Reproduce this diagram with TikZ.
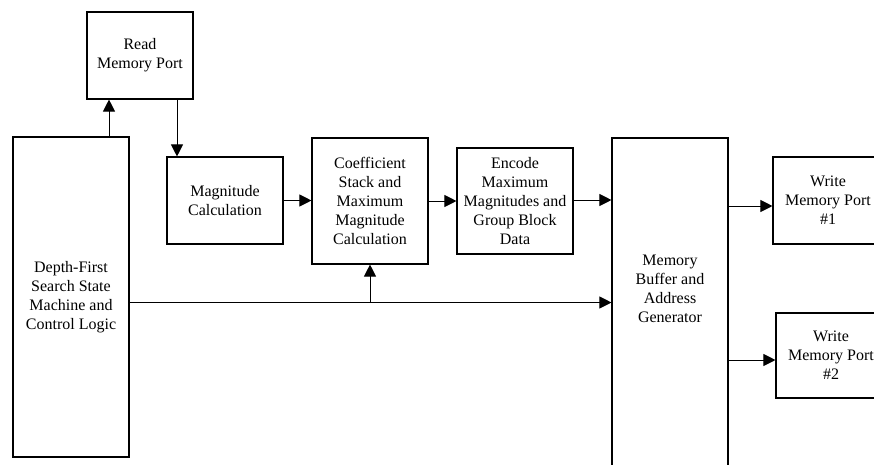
\documentclass[tikz,border=0pt]{standalone}
\usepackage{fontspec}
\setmainfont{Liberation Serif}
\usetikzlibrary{arrows.meta}
\begin{document}
\begin{tikzpicture}[x=1pt,y=-1pt,
  blk/.style={draw, line width=1.1pt, inner sep=0pt, align=center,
    font=\fontsize{16}{19}\selectfont},
  txt/.style={inner sep=0pt, align=center, font=\fontsize{16}{19}\selectfont},
  arr/.style={line width=1pt, -{Triangle[length=12pt,width=12pt]}},
  wire/.style={line width=1pt}]
\useasboundingbox (0,0) rectangle (874,464);
\clip (0,0) rectangle (874,464);

% processing blocks
\node[blk, minimum width=106pt, minimum height=87pt] (read) at (140,55.5) {Read\\Memory Port};
\node[blk, minimum width=116pt, minimum height=320pt] (dfs) at (71,297)
  {Depth-First\\Search State\\Machine and\\Control Logic};
\node[blk, minimum width=116pt, minimum height=87pt] (mag) at (225,200.5) {Magnitude\\Calculation};
\node[blk, minimum width=116pt, minimum height=126pt] (coef) at (370,201)
  {Coefficient\\Stack and\\Maximum\\Magnitude\\Calculation};
\node[blk, minimum width=116pt, minimum height=106pt] (enc) at (515,201)
  {Encode\\Maximum\\Magnitudes and\\Group Block\\Data};
\node[blk, minimum width=116pt, minimum height=340pt] (buf) at (670,308) {};
\node[txt] (buftext) at (670,289) {Memory\\Buffer and\\Address\\Generator};
\node[blk, minimum width=110pt, minimum height=87pt] (wp1) at (828,200.5) {Write\\Memory Port\\\#1};
\node[blk, minimum width=110pt, minimum height=85pt] (wp2) at (831,355.5) {Write\\Memory Port\\\#2};

% data flow
\draw[arr] ([xshift=38pt]dfs.north) -- ([xshift=38pt]dfs.north |- read.south);
\draw[arr] ([xshift=37pt]read.south) -- ([xshift=37pt]read.south |- mag.north);
\draw[arr] (mag.east) -- (mag.east -| coef.west);
\draw[arr] (coef.east) -- (coef.east -| enc.west);
\draw[arr] ([yshift=1pt]enc.east) -- ([yshift=1pt]enc.east -| buf.west);

% control bus
\coordinate (ctl) at ([yshift=-5.5pt]dfs.east);
\coordinate (tap) at (coef.south |- ctl);
\draw[arr] (ctl) -- (ctl -| buf.west);
\draw[arr] (tap) -- (coef.south);

% write ports
\draw[arr] ([yshift=-5.5pt]wp1.west -| buf.east) -- ([yshift=-5.5pt]wp1.west);
\draw[arr] ([yshift=-4.5pt]wp2.west -| buf.east) -- ([yshift=-4.5pt]wp2.west);
\end{tikzpicture}
\end{document}
